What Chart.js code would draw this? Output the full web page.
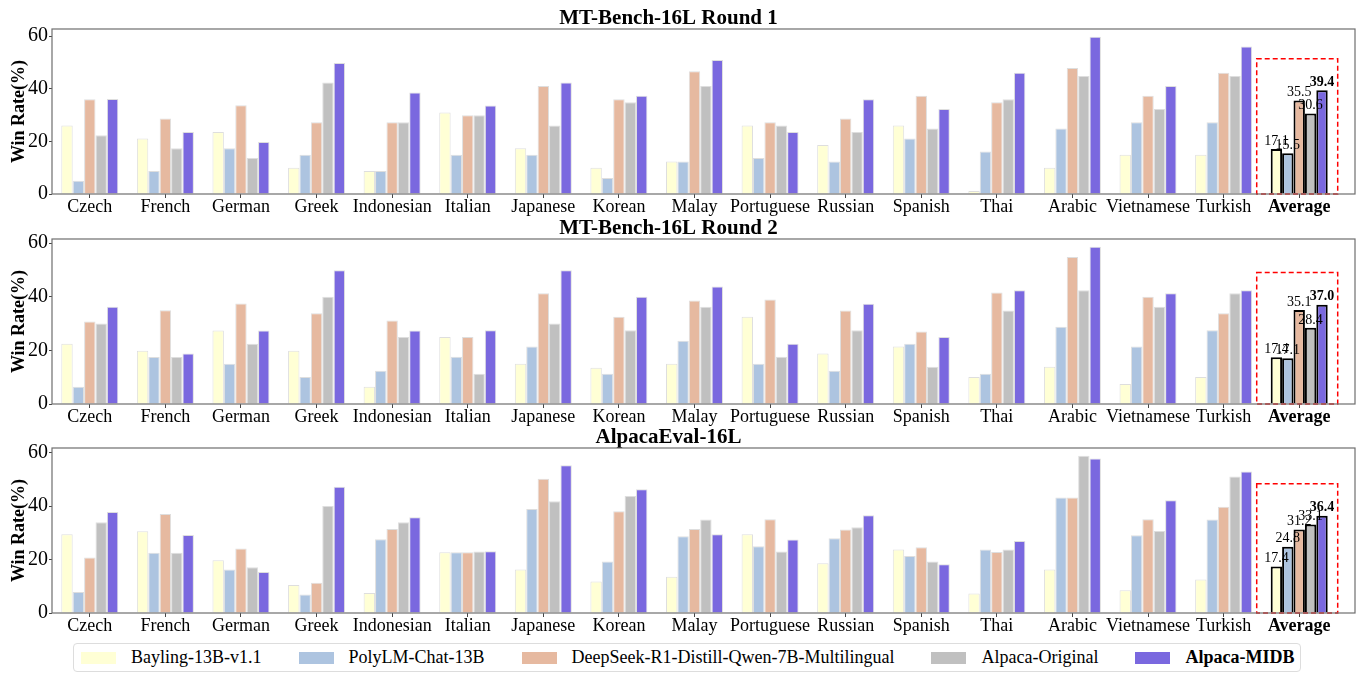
<!DOCTYPE html>
<html>
<head>
<meta charset="utf-8">
<script src="https://cdn.jsdelivr.net/npm/chart.js@4"></script>
<style>
  body { margin: 0; background: #fff; width: 1356px; height: 673px; overflow: hidden; position: relative; }
  canvas { position: absolute; left: 0; }
  #legend {
    position: absolute; left: 73px; top: 643px; width: 1228px; height: 29px;
    border: 1px solid #ddd; border-radius: 4px; box-sizing: border-box;
    display: flex; align-items: center; padding-left: 7px;
    font-family: "Liberation Serif", "Times New Roman", serif; font-size: 18px; color: #000;
    white-space: nowrap;
  }
  .item { display: flex; align-items: center; margin-right: 37px; flex-shrink: 0; }
  .patch { width: 35px; height: 12px; margin-right: 15px; flex-shrink: 0; }
</style>
</head>
<body>
<canvas id="c1" width="1356" height="216" style="top:0px"></canvas>
<canvas id="c2" width="1356" height="216" style="top:210px"></canvas>
<canvas id="c3" width="1356" height="216" style="top:419px"></canvas>
<div id="legend"></div>
<script>
const languages = ["Czech", "French", "German", "Greek", "Indonesian", "Italian", "Japanese", "Korean",
  "Malay", "Portuguese", "Russian", "Spanish", "Thai", "Arabic", "Vietnamese", "Turkish", "Average"];

const models = ["Bayling-13B-v1.1", "PolyLM-Chat-13B", "DeepSeek-R1-Distill-Qwen-7B-Multilingual", "Alpaca-Original", "Alpaca-MIDB"];
const colors = ["#FFFFD5", "#ADC4E0", "#E6B9A0", "#C0C0C0", "#7A68DF"];

const titles = ["MT-Bench-16L Round 1", "MT-Bench-16L Round 2", "AlpacaEval-16L"];

// MT-Bench round 1
const bay1  = [26.0, 21.1, 23.6, 10.0, 8.7, 31.0, 17.4, 10.0, 12.3, 26.0, 18.6, 26.0, 1.1, 10.0, 14.9, 14.9, 17.1];
const poly1 = [5.0, 8.7, 17.4, 14.9, 8.7, 14.9, 14.9, 6.1, 12.3, 13.7, 12.3, 21.1, 16.1, 24.9, 27.3, 27.3, 15.5];
const deep1 = [36.0, 28.7, 33.7, 27.3, 27.3, 29.9, 41.0, 36.0, 46.6, 27.3, 28.7, 37.3, 34.9, 47.9, 37.3, 46.1, 35.5];
const orig1 = [22.3, 17.4, 13.7, 42.4, 27.3, 29.9, 26.0, 34.9, 41.0, 26.0, 23.6, 24.9, 36.0, 44.8, 32.3, 44.8, 30.6];
const midb1 = [36.1, 23.6, 19.8, 49.8, 38.6, 33.6, 42.4, 37.3, 50.9, 23.6, 36.0, 32.3, 46.1, 59.7, 41.0, 56.0, 39.4];

// MT-Bench round 2
const bay2  = [22.5, 19.9, 27.4, 19.9, 6.4, 25.0, 15.0, 13.5, 15.0, 32.5, 18.8, 21.4, 10.1, 13.9, 7.5, 10.1, 17.4];
const poly2 = [6.4, 17.5, 15.0, 10.1, 12.4, 17.6, 21.4, 11.3, 23.6, 15.0, 12.4, 22.5, 11.3, 28.8, 21.4, 27.5, 17.1];
const deep2 = [30.8, 35.0, 37.5, 33.8, 31.1, 25.0, 41.3, 32.5, 38.6, 39.0, 34.9, 27.0, 41.6, 54.8, 40.0, 33.8, 35.1];
const orig2 = [30.0, 17.5, 22.5, 40.0, 25.0, 11.3, 30.0, 27.5, 36.3, 17.6, 27.5, 13.9, 34.9, 42.4, 36.3, 41.3, 28.4];
const midb2 = [36.3, 18.8, 27.4, 49.9, 27.4, 27.5, 49.9, 40.0, 43.8, 22.5, 37.4, 25.0, 42.4, 58.6, 41.3, 42.4, 37.0];

// AlpacaEval
const bay3  = [29.5, 30.6, 19.7, 10.5, 7.5, 22.7, 16.3, 11.8, 13.6, 29.5, 18.6, 23.8, 7.3, 16.3, 8.5, 12.5, 17.4];
const poly3 = [7.9, 22.5, 16.3, 6.9, 27.6, 22.7, 38.9, 19.3, 28.7, 25.0, 28.0, 21.3, 23.8, 43.2, 29.1, 35.0, 24.8];
const deep3 = [20.8, 37.0, 24.1, 11.3, 31.4, 22.7, 50.2, 38.1, 31.4, 35.1, 31.2, 24.6, 22.8, 43.2, 35.1, 39.8, 31.2];
const orig3 = [34.0, 22.5, 17.1, 40.0, 34.0, 23.0, 41.8, 43.8, 35.0, 23.0, 32.1, 19.3, 23.8, 58.8, 30.7, 51.1, 33.1];
const midb3 = [37.8, 29.2, 15.3, 47.2, 35.8, 23.1, 55.3, 46.3, 29.5, 27.5, 36.6, 18.2, 26.9, 57.8, 42.2, 52.9, 36.4];

const yTicks = [0, 20, 40, 60];

const SERIF = "'Liberation Serif', 'Times New Roman', serif";
Chart.defaults.color = "#000";
Chart.defaults.font.family = SERIF;

const AVG = languages.length - 1;
const EXTRA_RIGHT = 18; // frame runs past the last group, like the matplotlib xlim

// frame round the plot area
const framePlugin = {
  id: "frame",
  afterDraw(chart) {
    const a = chart.chartArea, c = chart.ctx;
    c.save();
    c.strokeStyle = "#6e6e6e";
    c.lineWidth = 1.2;
    c.strokeRect(a.left, a.top, a.right + EXTRA_RIGHT - a.left, a.bottom - a.top);
    c.restore();
  }
};

// dashed red box + value labels for the Average group
const avgPlugin = {
  id: "avgBox",
  afterDatasetsDraw(chart) {
    const c = chart.ctx;
    const y = chart.scales.y;
    const first = chart.getDatasetMeta(0).data[AVG];
    const last = chart.getDatasetMeta(4).data[AVG];
    const avgVals = chart.data.datasets.map(d => d.data[AVG]);
    const left = first.x - first.width / 2 - 14;
    const right = last.x + last.width / 2 + 10;
    const top = y.getPixelForValue(Math.max(...avgVals) + 12);
    const bottom = y.getPixelForValue(0);
    c.save();
    c.setLineDash([5, 3]);
    c.strokeStyle = "#ff0000";
    c.lineWidth = 1.5;
    c.strokeRect(left, top, right - left, bottom - top);
    c.setLineDash([]);
    c.textAlign = "center";
    c.textBaseline = "bottom";
    c.fillStyle = "#000";
    chart.data.datasets.forEach((ds, i) => {
      const bar = chart.getDatasetMeta(i).data[AVG];
      c.font = (i === 4 ? "bold " : "") + "14px " + SERIF;
      c.fillText(ds.data[AVG].toFixed(1), bar.x, bar.y - 1);
    });
    c.restore();
  }
};

function makeChart(id, title, series) {
  const maxVal = Math.max(...series.flat());
  new Chart(document.getElementById(id), {
    type: "bar",
    data: {
      labels: languages,
      datasets: series.map((vals, i) => ({
        label: models[i],
        data: vals,
        backgroundColor: colors[i],
        borderColor: ctx => ctx.dataIndex === AVG ? "#000" : "rgba(0,0,0,0.13)",
        borderWidth: ctx => ctx.dataIndex === AVG ? 2 : 1,
        barPercentage: 1,
        categoryPercentage: 0.754
      }))
    },
    options: {
      responsive: false,
      animation: false,
      devicePixelRatio: 1,
      layout: { padding: { left: 0, right: EXTRA_RIGHT + 1, top: 0, bottom: 0 } },
      plugins: {
        legend: { display: false },
        tooltip: { enabled: false },
        title: {
          display: true,
          text: title,
          font: { size: 21, weight: "bold", family: SERIF, lineHeight: 1.0 },
          color: "#000",
          padding: { top: 8, bottom: 0 }
        }
      },
      scales: {
        x: {
          offset: true,
          grid: { drawOnChartArea: false, drawTicks: true, tickLength: 4, offset: false, color: "#444" },
          border: { display: false },
          ticks: {
            padding: 0,
            maxRotation: 0,
            autoSkip: false,
            font: ctx => ({ size: 18, family: SERIF, lineHeight: 1.0, weight: ctx.index === AVG ? "bold" : "normal" })
          }
        },
        y: {
          min: 0,
          max: maxVal * 1.05,
          afterFit: s => { s.width = 52; },
          afterBuildTicks: s => { s.ticks = yTicks.map(v => ({ value: v })); },
          grid: { drawOnChartArea: false, drawTicks: true, tickLength: 3, color: "#444" },
          border: { display: false },
          ticks: { padding: 1, font: { size: 20, family: SERIF } },
          title: {
            display: true,
            text: "Win Rate(%)",
            font: { size: 18, weight: "bold", family: SERIF },
            padding: { top: 9, bottom: 0 }
          }
        }
      }
    },
    plugins: [framePlugin, avgPlugin]
  });
}

makeChart("c1", titles[0], [bay1, poly1, deep1, orig1, midb1]);
makeChart("c2", titles[1], [bay2, poly2, deep2, orig2, midb2]);
makeChart("c3", titles[2], [bay3, poly3, deep3, orig3, midb3]);

const legend = document.getElementById("legend");
models.forEach((m, i) => {
  const item = document.createElement("div");
  item.className = "item";
  const p = document.createElement("span");
  p.className = "patch";
  p.style.background = colors[i];
  const t = document.createElement("span");
  t.textContent = m;
  if (i === 4) t.style.fontWeight = "bold";
  item.appendChild(p);
  item.appendChild(t);
  legend.appendChild(item);
});
</script>
</body>
</html>
